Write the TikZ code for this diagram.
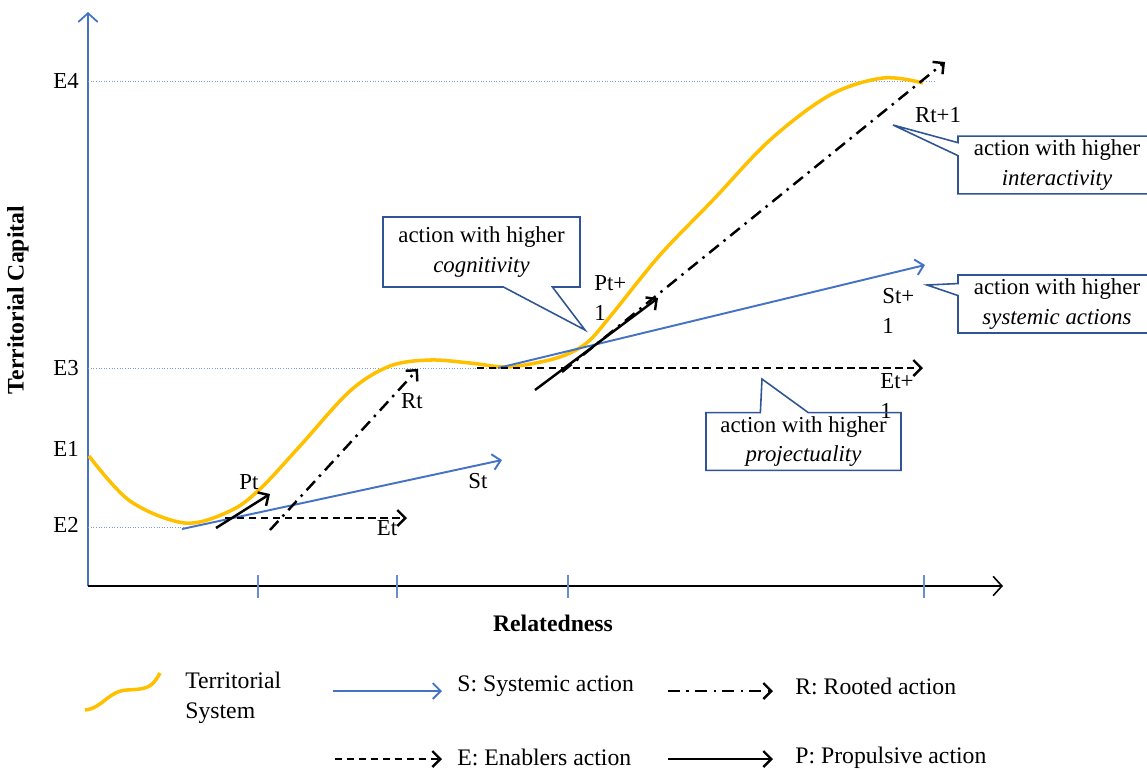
\documentclass[tikz,border=0pt]{standalone}
\usepackage{fontspec}
\setmainfont{Liberation Serif}
\usetikzlibrary{arrows.meta,shapes.callouts}
\definecolor{tsyellow}{HTML}{FFC000}
\definecolor{sblue}{HTML}{4472C4}
\definecolor{cblue}{HTML}{2F5597}

\begin{document}
\begin{tikzpicture}[x=0.02cm, y=-0.02cm,
    every node/.style={font=\fontsize{13}{17}\selectfont},
    barbtip/.style={-{Straight Barb[length=4.5pt,width=9pt]}},
    sysarrow/.style={barbtip, sblue, line width=1.1pt},
    rootarrow/.style={barbtip, black, line width=1.4pt, dash pattern=on 7pt off 3.5pt on 1.4pt off 3.5pt},
    enabarrow/.style={barbtip, black, line width=1.4pt, dash pattern=on 4.2pt off 2.6pt},
    proparrow/.style={barbtip, black, line width=1.4pt},
    tscurve/.style={tsyellow, line width=2pt},
    elevel/.style={sblue!70, densely dotted, line width=0.5pt},
    axtick/.style={sblue!80, line width=0.6pt},
    callbox/.style={rectangle callout, draw=cblue, line width=0.9pt, align=center, inner sep=2pt},
    lbl/.style={align=left, inner sep=0pt},
    legtext/.style={font=\fontsize{13.5}{17}\selectfont, inner sep=0pt}]
  \useasboundingbox (0,0) rectangle (1147,769);

  % axes
  \coordinate (O) at (88,586);
  \coordinate (ytop) at (88,12);
  \coordinate (xend) at (1003,586);
  \draw[sblue, line width=1pt, -{Straight Barb[length=5pt,width=11pt]}] (O) -- (ytop);
  \draw[black, line width=0.9pt, -{Straight Barb[length=5pt,width=11pt]}] (O) -- (xend);
  \foreach \tx in {258,397,568,924}
    \draw[axtick] (\tx,575) -- (\tx,598);
  \node[rotate=90, font=\fontsize{13.5}{16}\bfseries] (ycap) at (18,300) {Territorial Capital};
  \node[font=\fontsize{13.5}{16}\bfseries] (xrel) at (553,623) {Relatedness};

  % levels
  \node (e4) at (66,81) {E4};
  \node (e3) at (66,368) {E3};
  \node (e1) at (66,449) {E1};
  \node (e2) at (66,525) {E2};
  \draw[elevel] (88,81) -- (935,81);
  \draw[elevel] (88,368) -- (500,368);
  \draw[elevel] (88,527) -- (183,527);

  % territorial system
  \draw[tscurve] plot[smooth, tension=0.55] coordinates {(89,456) (130,501) (185,523) (230,511)
    (260,489) (300,446) (350,391) (390,366) (430,360) (470,363) (507,367) (545,361)
    (570,353) (590,340) (613,313) (660,255) (713,200) (770,140) (830,95) (883,78) (923,83)};

  % actions at t
  \coordinate (st0) at (182,529);
  \coordinate (st1) at (502,460);
  \coordinate (et0) at (225,518);
  \coordinate (et1) at (407,518);
  \coordinate (rt0) at (270,530);
  \coordinate (rt1) at (418,369);
  \coordinate (pt0) at (216,528);
  \coordinate (pt1) at (270,494);
  \draw[sysarrow] (st0) -- (st1);
  \draw[enabarrow] (et0) -- (et1);
  \draw[rootarrow] (rt0) -- (rt1);
  \draw[proparrow] (pt0) -- (pt1);
  \node (ptl) at (249,482) {Pt};
  \node (rtl) at (412,401) {Rt};
  \node (stl) at (478,481) {St};
  \node (etl) at (387,528) {Et};

  % actions at t+1
  \coordinate (st2) at (498,368);
  \coordinate (st3) at (925,265);
  \coordinate (et2) at (477,368);
  \coordinate (et3) at (923,368);
  \coordinate (rt2) at (562,372);
  \coordinate (rt3) at (945,62);
  \coordinate (pt2) at (535,390);
  \coordinate (pt3) at (658,298);
  \draw[sysarrow] (st2) -- (st3);
  \draw[enabarrow] (et2) -- (et3);
  \draw[rootarrow] (rt2) -- (rt3);
  \draw[proparrow] (pt2) -- (pt3);
  \node[lbl, anchor=west] (ptl2) at (594,298) {Pt+\\1};
  \node[lbl, anchor=west] (stl2) at (882,311) {St+\\1};
  \node[lbl, anchor=west] (etl2) at (880,396) {Et+\\1};
  \node (rtl2) at (938,115) {Rt+1};

  % callouts
  \coordinate (cogtip) at (585,330);
  \coordinate (inttip) at (893,125);
  \coordinate (systip) at (927,285);
  \coordinate (protip) at (762,379);
  \node[callbox, minimum width=3.94cm, minimum height=1.4cm, callout pointer width=0.98cm,
    callout absolute pointer={(cogtip)}] (cogbox) at (481.5,252) {action with higher\\\textit{cognitivity}};
  \node[callbox, minimum width=3.96cm, minimum height=1.12cm, callout pointer width=0.26cm,
    callout absolute pointer={(inttip)}] (intbox) at (1057,165) {action with higher\\\textit{interactivity}};
  \node[callbox, minimum width=3.96cm, minimum height=1.16cm, callout pointer width=0.24cm,
    callout absolute pointer={(systip)}] (sysbox) at (1057,304) {action with higher\\\textit{systemic actions}};
  \node[callbox, minimum width=3.9cm, minimum height=1.14cm, callout pointer width=0.96cm,
    callout absolute pointer={(protip)}] (probox) at (803.5,441.5) {action with higher\\\textit{projectuality}};

  % legend
  \draw[tscurve] (85,710) .. controls (103,708) and (108,691) .. (127,690)
    .. controls (147,689) and (152,688) .. (160,673);
  \node[legtext, align=left, anchor=west] (legts) at (185,698) {Territorial\\System};
  \coordinate (ls0) at (333,691);
  \coordinate (ls1) at (442,691);
  \coordinate (lr0) at (668,691);
  \coordinate (lr1) at (773,691);
  \coordinate (le0) at (335,759);
  \coordinate (le1) at (442,759);
  \coordinate (lp0) at (668,759);
  \coordinate (lp1) at (773,759);
  \draw[sysarrow] (ls0) -- (ls1);
  \draw[rootarrow] (lr0) -- (lr1);
  \draw[enabarrow] (le0) -- (le1);
  \draw[proparrow] (lp0) -- (lp1);
  \node[legtext, anchor=west] (legs) at (457,686) {S: Systemic action};
  \node[legtext, anchor=west] (legr) at (795,686) {R: Rooted action};
  \node[legtext, anchor=west] (lege) at (457,757) {E: Enablers action};
  \node[legtext, anchor=west] (legp) at (795,758) {P: Propulsive action};
\end{tikzpicture}
\end{document}
